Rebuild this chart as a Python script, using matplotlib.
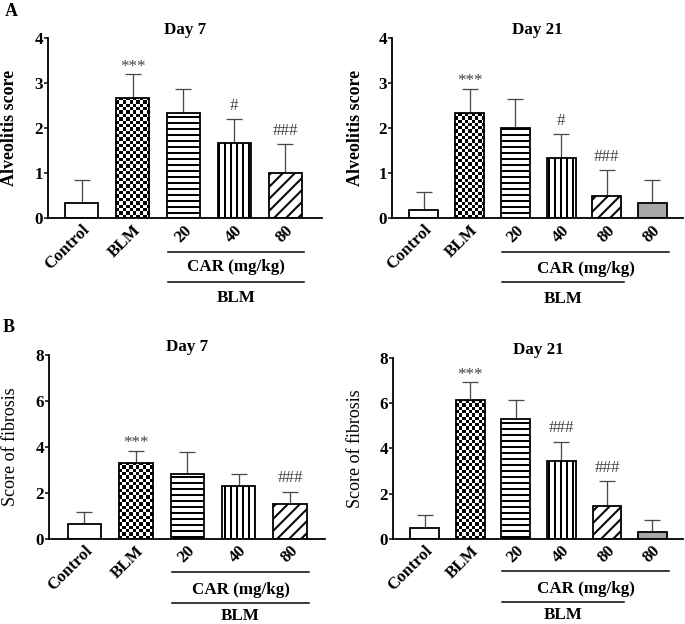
import matplotlib
matplotlib.use('Agg')
import matplotlib.pyplot as plt
import numpy as np
from matplotlib.transforms import blended_transform_factory

plt.rcParams['hatch.linewidth'] = 2.0
plt.rcParams['font.family'] = ['Liberation Serif', 'DejaVu Serif']

# ---------------- data ----------------
labels7 = ['Control', 'BLM', '20', '40', '80']
labels21 = ['Control', 'BLM', '20', '40', '80', '80']

alv7_mean = [0.33, 2.67, 2.33, 1.67, 1.00]
alv7_err = [0.52, 0.53, 0.53, 0.53, 0.64]
alv7_sig = ['', '***', '', '#', '###']

alv21_mean = [0.17, 2.33, 2.00, 1.33, 0.50, 0.33]
alv21_err = [0.40, 0.54, 0.65, 0.53, 0.56, 0.52]
alv21_sig = ['', '***', '', '#', '###', '']

fib7_mean = [0.64, 3.31, 2.82, 2.31, 1.49]
fib7_err = [0.54, 0.52, 0.97, 0.52, 0.56]
fib7_sig = ['', '***', '', '', '###']

fib21_mean = [0.49, 6.15, 5.30, 3.46, 1.46, 0.31]
fib21_err = [0.56, 0.77, 0.82, 0.84, 1.08, 0.52]
fib21_sig = ['', '***', '', '###', '###', '']

styles = ['plain', 'checker', '--', '||', '//', 'gray']

DPI = 72
fig = plt.figure(figsize=(685 / DPI, 624 / DPI), dpi=DPI)
W, H = 685, 624
FS = 17


def add_ax(l, t, r, b):
    return fig.add_axes([l / W, 1 - b / H, (r - l) / W, (b - t) / H])


def checker(ax, bar, cell=3.3):
    x0, y0 = bar.get_x(), bar.get_y()
    w, h = bar.get_width(), bar.get_height()
    (px0, py0), (px1, py1) = ax.transData.transform([(x0, y0), (x0 + w, y0 + h)])
    nx = max(1, int(round((px1 - px0) / cell)))
    ny = max(1, int(round((py1 - py0) / cell)))
    img = np.add.outer(np.arange(ny), np.arange(nx)) % 2
    im = ax.imshow(img, cmap='gray', vmin=0, vmax=1, extent=(x0, x0 + w, y0, y0 + h),
                   origin='lower', interpolation='nearest', aspect='auto', zorder=0.5)
    im.set_clip_path(bar)


def panel(ax, labels, mean, err, sig, ymax, ystep, ylabel, ylabel_bold, title,
          xlim, width, ylines, ylab_x):
    n = len(mean)
    x = np.arange(n)
    ax.set_xlim(*xlim)
    ax.set_ylim(0, ymax)
    bars = []
    for i in range(n):
        st = styles[i]
        kw = dict(edgecolor='black', linewidth=1.8, zorder=2)
        if st == 'plain':
            b = ax.bar(x[i], mean[i], width, facecolor='white', **kw)[0]
        elif st == 'checker':
            b = ax.bar(x[i], mean[i], width, facecolor='none', **kw)[0]
        elif st == 'gray':
            b = ax.bar(x[i], mean[i], width, facecolor='#a8a8a8', **kw)[0]
        else:
            b = ax.bar(x[i], mean[i], width, facecolor='white', hatch=st, **kw)[0]
        bars.append(b)
    ax.errorbar(x, mean, yerr=[np.zeros(n), err], fmt='none', ecolor='#4a4a4a',
                elinewidth=1.3, capsize=8, capthick=1.3, zorder=1)
    for i in range(n):
        if styles[i] == 'checker':
            checker(ax, bars[i])
    ax.set_xlim(*xlim)
    ax.set_ylim(0, ymax)
    # significance marks
    for i in range(n):
        s = sig[i]
        if not s:
            continue
        off = 3.5 if '*' in s else 9.5
        ax.annotate(s, (x[i], mean[i] + err[i]), xytext=(0, off), textcoords='offset points',
                    ha='center', va='baseline', fontsize=17, color='#444444')
    for sp in ['top', 'right']:
        ax.spines[sp].set_visible(False)
    for sp in ['left', 'bottom']:
        ax.spines[sp].set_linewidth(1.8)
    ticks = np.arange(0, ymax + 0.01, ystep)
    ax.set_yticks(ticks)
    ax.set_yticklabels([str(int(v)) for v in ticks], fontsize=FS, fontweight='bold')
    ax.tick_params(axis='y', direction='out', length=4, width=1.5, pad=1)
    ax.set_xticks(x)
    ax.set_xticklabels(labels, rotation=45, ha='right', va='top', rotation_mode='anchor',
                       fontsize=FS, fontweight='bold')
    ax.tick_params(axis='x', length=0, pad=4)
    ax.set_ylabel(ylabel, fontsize=18, fontweight='bold' if ylabel_bold else 'normal')
    ax.yaxis.set_label_coords(ylab_x, 0.5)
    ax.set_title(title, fontsize=FS, fontweight='bold', pad=1)
    # group lines
    tr = blended_transform_factory(ax.transData, ax.transAxes)
    l1, tcar, l2, tblm = ylines
    ax.plot([2 - 0.3, n - 1 + 0.37], [l1, l1], color='black', lw=1.5, transform=tr, clip_on=False)
    ax.text((2 - 0.3 + n - 1 + 0.37) / 2, tcar, 'CAR (mg/kg)', transform=tr, ha='center', va='center',
            fontsize=FS, fontweight='bold')
    ax.plot([2 - 0.3, 4 + 0.37], [l2, l2], color='black', lw=1.5, transform=tr, clip_on=False)
    ax.text((2 - 0.3 + 4 + 0.37) / 2, tblm, 'BLM', transform=tr, ha='center', va='baseline',
            fontsize=FS, fontweight='bold')


axA7 = add_ax(48, 38, 322, 218)
axA21 = add_ax(392, 38, 683, 218)
axB7 = add_ax(49, 355, 325, 538.7)
axB21 = add_ax(393, 358, 683, 538.7)

panel(axA7, labels7, alv7_mean, alv7_err, alv7_sig, 4, 1, 'Alveolitis score', True, 'Day 7',
      (-0.66, 4.72), 0.65, (-0.187, -0.272, -0.354, -0.467), -0.109)
panel(axA21, labels21, alv21_mean, alv21_err, alv21_sig, 4, 1, 'Alveolitis score', True, 'Day 21',
      (-0.70, 5.67), 0.635, (-0.187, -0.285, -0.354, -0.472), -0.096)
panel(axB7, labels7, fib7_mean, fib7_err, fib7_sig, 8, 2, 'Score of fibrosis', False, 'Day 7',
      (-0.69, 4.68), 0.65, (-0.18, -0.28, -0.35, -0.443), -0.109)
panel(axB21, labels21, fib21_mean, fib21_err, fib21_sig, 8, 2, 'Score of fibrosis', False, 'Day 21',
      (-0.70, 5.67), 0.635, (-0.18, -0.28, -0.35, -0.443), -0.100)

fig.text(5 / W, 1 - 12 / H, 'A', fontsize=18, fontweight='bold', ha='left', va='center')
fig.text(3 / W, 1 - 327 / H, 'B', fontsize=18, fontweight='bold', ha='left', va='center')

fig.savefig('out.png', dpi=DPI)
